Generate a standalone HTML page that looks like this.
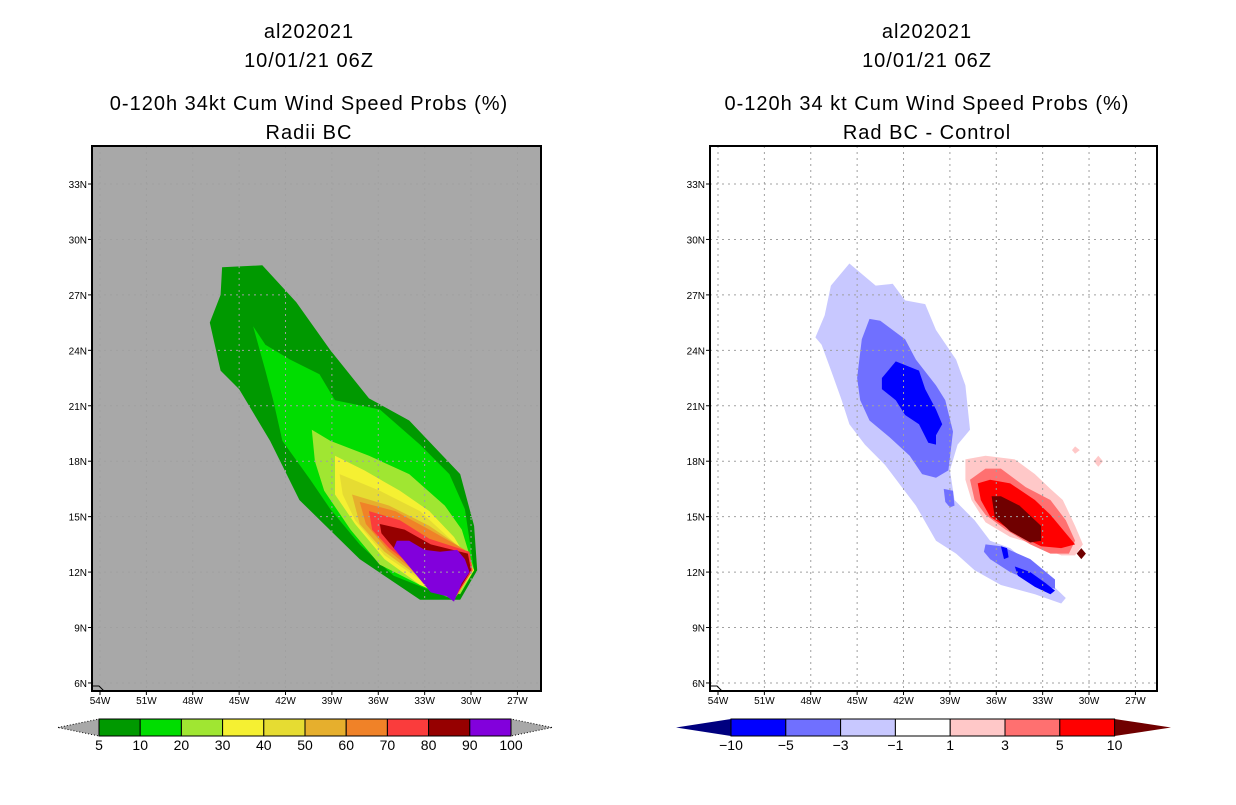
<!DOCTYPE html>
<html><head><meta charset="utf-8"><style>
body{margin:0;background:#fff;width:1236px;height:800px;overflow:hidden;font-family:"Liberation Sans",sans-serif}
svg text{font-family:"Liberation Sans",sans-serif}
</style></head><body>
<svg id="c" width="1236" height="800" xmlns="http://www.w3.org/2000/svg">
<g font-size="20" text-anchor="middle" letter-spacing="1">
<text x="309" y="38">al202021</text><text x="309" y="67">10/01/21 06Z</text>
<text x="309" y="110">0-120h 34kt Cum Wind Speed Probs (%)</text><text x="309" y="139">Radii BC</text></g>
<g font-size="20" text-anchor="middle" letter-spacing="1">
<text x="927" y="38">al202021</text><text x="927" y="67">10/01/21 06Z</text>
<text x="927" y="110">0-120h 34 kt Cum Wind Speed Probs (%)</text><text x="927" y="139">Rad BC - Control</text></g>
<g id="L"></g><g id="R"></g>
</svg>
<script>
// ---- data ----
const lonTicks=[54,51,48,45,42,39,36,33,30,27];
const latTicks=[33,30,27,24,21,18,15,12,9,6];
const leftLevels=[5,10,20,30,40,50,60,70,80,90,100];
const leftColors=["#009900","#00dd00","#a0e632","#f5f032","#e6dc32","#e6af2d","#f08228","#fa3c3c","#960000","#8200dc"];
const rightLevels=[-10,-5,-3,-1,1,3,5,10];
const rightColors=["#00007f","#0000ff","#7070ff","#c8c8ff","#ffffff","#ffc8c8","#ff7070","#ff0000","#700000"];
// contour polygons [lonW, latN]
const p5=[[46.1,28.5],[43.5,28.6],[41.3,26.6],[39.1,24.0],[36.6,21.4],[34.0,20.2],[30.7,17.3],[29.8,14.5],[29.6,12.1],[30.7,10.5],[33.3,10.5],[37.2,12.7],[41.1,15.9],[43.0,19.1],[45.0,21.9],[46.2,22.9],[46.9,25.5],[46.2,27.0]];
const p10=[[44.1,25.3],[43.3,24.3],[41.7,23.5],[39.8,22.7],[38.8,21.3],[35.9,20.8],[33.3,18.9],[31.4,17.3],[30.4,15.4],[29.8,12.1],[31.1,10.5],[35.0,11.8],[37.2,13.5],[39.1,15.4],[40.4,17.0],[42.2,19.1],[42.8,21.3],[43.3,22.9]];
const p20=[[40.3,19.7],[39.1,19.1],[36.6,18.3],[34.0,17.3],[31.7,15.6],[30.6,14.3],[29.8,12.1],[30.7,10.8],[33.3,11.3],[35.9,12.4],[37.8,14.3],[39.5,16.4],[40.1,18.0]];
const p30=[[38.8,18.3],[36.9,17.5],[34.6,16.4],[32.7,15.3],[31.1,13.9],[29.8,12.1],[31.1,10.5],[33.3,11.3],[35.6,12.7],[37.5,14.6],[38.8,16.2]];
const p40=[[38.5,17.3],[35.9,16.4],[33.3,15.3],[31.1,13.6],[29.9,12.1],[31.1,10.5],[33.3,11.6],[35.6,12.9],[37.5,14.8],[38.3,16.2]];
const p50=[[37.7,16.2],[35.3,15.6],[32.7,14.5],[30.6,13.3],[29.9,12.1],[31.1,10.5],[33.3,11.7],[35.6,13.1],[37.2,14.6]];
const p60=[[37.2,15.8],[34.9,15.3],[32.7,14.3],[30.4,13.2],[29.9,12.1],[31.1,10.5],[33.3,11.8],[35.4,13.2],[36.8,14.6]];
const p70=[[36.6,15.3],[34.6,14.8],[32.7,13.8],[30.1,13.1],[29.9,12.1],[31.1,10.5],[33.3,12.0],[35.3,13.3],[36.4,14.3]];
const p80=[[35.9,14.6],[34.3,14.3],[32.6,13.5],[30.2,13.0],[30.0,12.1],[31.1,10.6],[33.0,12.0],[34.9,13.2],[35.8,14.1]];
const p90=[[34.8,13.7],[34.0,13.7],[33.0,13.2],[32.0,13.1],[30.9,13.2],[30.4,12.7],[30.1,12.0],[30.6,11.4],[31.1,10.4],[31.6,10.7],[32.6,10.9],[33.4,11.7],[34.3,12.6],[35.0,13.3]];
const leftPolys=[p5,p10,p20,p30,p40,p50,p60,p70,p80,p90];
const nLight=[[45.5,28.7],[43.8,27.5],[42.7,27.6],[41.9,26.7],[40.6,26.5],[39.9,25.1],[38.6,23.5],[38.0,22.1],[37.7,19.7],[38.5,18.9],[39.0,17.5],[38.7,15.9],[37.4,14.8],[36.4,13.7],[35.1,13.3],[33.5,12.2],[31.5,10.6],[31.8,10.3],[33.5,10.8],[35.7,11.3],[37.4,12.1],[38.6,13.0],[39.9,13.7],[41.2,15.6],[42.2,16.7],[43.2,17.8],[44.5,18.9],[45.5,20.0],[46.0,21.3],[46.6,22.7],[47.3,24.3],[47.7,24.7],[47.1,25.9],[46.7,27.5]];
const nMid1=[[44.2,25.7],[43.5,25.6],[41.9,24.6],[41.2,23.5],[39.9,22.1],[39.3,21.3],[38.8,19.6],[39.1,17.5],[39.9,17.1],[40.8,17.3],[41.6,18.3],[42.9,19.3],[44.2,20.2],[44.8,21.3],[45.0,22.5],[44.7,24.6]];
const nMid2=[[36.7,13.5],[35.7,13.4],[33.8,12.7],[32.2,11.6],[32.2,11.1],[33.1,11.3],[35.1,12.0],[36.4,12.7],[36.8,13.1]];
const nMid3=[[39.4,16.5],[38.8,16.4],[38.7,15.6],[39.0,15.5],[39.3,15.8]];
const nDark1=[[42.5,23.4],[41.0,22.9],[40.6,21.9],[39.9,20.8],[39.5,20.0],[39.9,19.4],[39.9,18.9],[40.4,19.0],[41.0,20.0],[41.9,20.5],[42.5,21.3],[43.4,21.9],[43.4,22.5]];
const nDark2=[[34.8,12.3],[33.8,12.0],[32.8,11.4],[32.2,11.0],[32.5,10.8],[33.5,11.2],[34.6,11.8]];
const nDark3=[[35.7,13.4],[35.3,13.3],[35.2,12.8],[35.5,12.7]];
const pLight=[[38.0,18.1],[36.7,18.3],[34.8,18.1],[33.5,17.3],[32.5,16.5],[31.7,15.9],[30.9,14.5],[30.4,13.5],[30.9,12.9],[31.8,12.9],[33.5,13.5],[35.1,13.9],[36.7,14.7],[37.6,15.9],[38.0,17.0]];
const pMid=[[37.7,17.0],[36.7,17.6],[35.7,17.6],[34.1,16.6],[32.5,15.9],[31.5,14.8],[30.9,13.7],[31.3,13.0],[32.5,13.0],[33.8,13.5],[35.4,14.3],[36.7,15.1],[37.4,15.9]];
const pRed=[[37.2,16.8],[36.4,17.0],[35.1,16.8],[33.5,15.9],[32.5,15.1],[31.5,14.1],[30.9,13.5],[31.8,13.3],[33.1,13.4],[34.8,14.1],[36.4,15.0],[37.0,15.9]];
const pDark=[[36.3,16.1],[35.7,16.1],[34.5,15.6],[33.1,14.5],[33.1,13.7],[33.8,13.6],[35.1,14.2],[36.1,15.0]];
const pDark2=[[30.5,13.3],[30.2,13.0],[30.5,12.7],[30.8,13.0]];
const pSpeck1=[[29.4,18.3],[29.1,18.0],[29.4,17.7],[29.7,18.0]];
const pSpeck2=[[30.9,18.8],[30.6,18.6],[30.9,18.4],[31.1,18.6]];
const rightPolys=[[nLight,3],[nMid1,2],[nMid2,2],[nMid3,2],[nDark1,1],[nDark2,1],[nDark3,1],[pLight,5],[pSpeck1,5],[pSpeck2,5],[pMid,6],[pRed,7],[pDark,8],[pDark2,8]];
// ---- drawing ----
const NS="http://www.w3.org/2000/svg";
function mk(t,a,p){const e=document.createElementNS(NS,t);for(const k in a)e.setAttribute(k,a[k]);p.appendChild(e);return e;}
const yOf=lat=>184+(33-lat)*18.48;
function panel(g,x0,x1,lonX0,bg,polys,colors,name){
  const xOf=lon=>lonX0+(54-lon)*15.46;
  const bgr=mk('rect',{x:x0,y:146,width:x1-x0,height:545,fill:bg},g);
  
  
  polys.forEach(([pts,ci])=>{
    const p=mk('polygon',{points:pts.map(q=>xOf(q[0]).toFixed(1)+','+yOf(q[1]).toFixed(1)).join(' '),fill:colors[ci]},g);
    
    
  });
  lonTicks.forEach(l=>{
    const x=xOf(l);
    const gl=mk('line',{x1:x,y1:146,x2:x,y2:691,stroke:'#a0a0a0','stroke-dasharray':'2,4'},g);
    
    
    mk('line',{x1:x,y1:691,x2:x,y2:695,stroke:'#000'},g);
    const t=mk('text',{x:x,y:704,'font-size':10,'text-anchor':'middle'},g);t.textContent=l+'W';
    
    
  });
  latTicks.forEach(l=>{
    const y=yOf(l);
    const gl=mk('line',{x1:x0,y1:y,x2:x1,y2:y,stroke:'#a0a0a0','stroke-dasharray':'2,4'},g);
    
    
    mk('line',{x1:x0-4,y1:y,x2:x0,y2:y,stroke:'#000'},g);
    const t=mk('text',{x:x0-5,y:y+4,'font-size':10,'text-anchor':'end'},g);t.textContent=l+'N';
    
    
  });
  mk('path',{d:`M${x0} ${686} L${x0+7} ${686} L${x0+12} ${691}`,stroke:'#000',fill:'none'},g);
  const fr=mk('rect',{x:x0,y:146,width:x1-x0,height:545,fill:'none',stroke:'#000','stroke-width':2},g);
  
  
}
const L=document.getElementById('L'),R=document.getElementById('R');
panel(L,92,541,100,'#a8a8a8',leftPolys.map((p,i)=>[p,i]),leftColors,'left');
panel(R,710,1157,718,'#ffffff',rightPolys,rightColors,'right');
// left colorbar
(function(){
  const x0=99,w=41.2,y0=719,h=17;
  mk('polygon',{points:`58,727.5 ${x0},${y0} ${x0},${y0+h}`,fill:'#a8a8a8',stroke:'#000','stroke-dasharray':'1,2'},L);
  mk('polygon',{points:`552,727.5 ${x0+10*w},${y0} ${x0+10*w},${y0+h}`,fill:'#a8a8a8',stroke:'#000','stroke-dasharray':'1,2'},L);
  leftColors.forEach((c,i)=>{
    const r=mk('rect',{x:x0+i*w,y:y0,width:w,height:h,fill:c,stroke:'#000'},L);
    
    
  });
  leftLevels.forEach((v,i)=>{
    const t=mk('text',{x:x0+i*w,y:750,'font-size':14,'text-anchor':'middle'},L);t.textContent=v;
    
    
  });
})();
// right colorbar
(function(){
  const x0=731,w=54.8,y0=719,h=17;
  mk('polygon',{points:`676,727.5 ${x0},${y0} ${x0},${y0+h}`,fill:rightColors[0]},R);
  mk('polygon',{points:`1171,727.5 ${x0+7*w},${y0} ${x0+7*w},${y0+h}`,fill:rightColors[8]},R);
  for(let i=1;i<=7;i++){
    const r=mk('rect',{x:x0+(i-1)*w,y:y0,width:w,height:h,fill:rightColors[i],stroke:'#000'},R);
    
    
  }
  rightLevels.forEach((v,i)=>{
    const t=mk('text',{x:x0+i*w,y:750,'font-size':14,'text-anchor':'middle'},R);t.textContent=v<0?'\u2212'+(-v):v;
    
    
  });
})();
</script>
</body></html>
